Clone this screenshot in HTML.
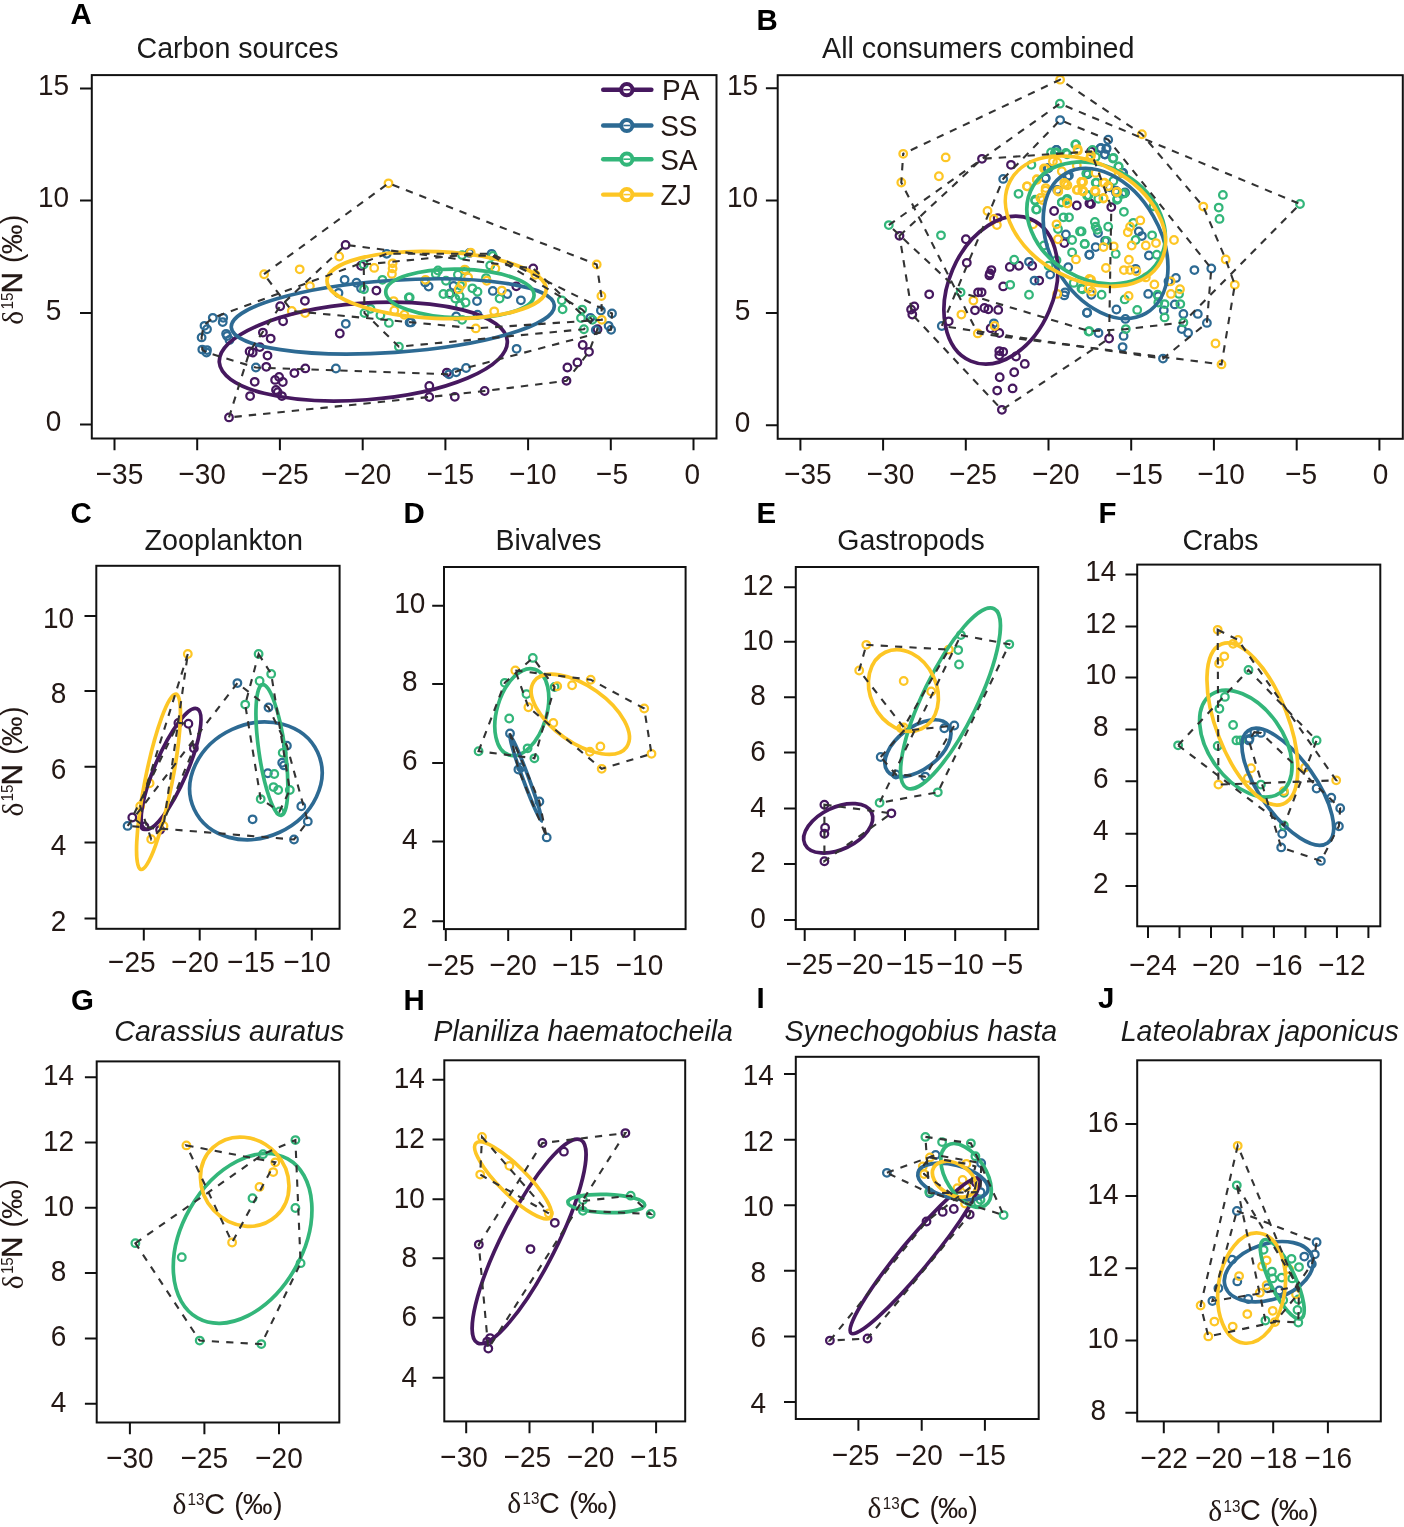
<!DOCTYPE html><html><head><meta charset="utf-8"><title>Figure</title><style>html,body{margin:0;padding:0;background:#fff}svg{display:block;will-change:transform}text{font-family:"Liberation Sans",sans-serif;font-kerning:none}</style></head><body><svg width="1404" height="1527" viewBox="0 0 1404 1527"><rect width="1404" height="1527" fill="#fff"/><g fill="none" stroke="#46185f" stroke-width="2.25"><circle cx="345.6" cy="244.9" r="3.8"/><circle cx="361.1" cy="265.7" r="3.8"/><circle cx="376.4" cy="290.6" r="3.8"/><circle cx="304.9" cy="300.8" r="3.8"/><circle cx="280.2" cy="306.2" r="3.8"/><circle cx="283.1" cy="321.2" r="3.8"/><circle cx="262.9" cy="332.6" r="3.8"/><circle cx="270.7" cy="338.6" r="3.8"/><circle cx="339.8" cy="333.5" r="3.8"/><circle cx="259.8" cy="347.1" r="3.8"/><circle cx="249.6" cy="351.5" r="3.8"/><circle cx="252.7" cy="352.5" r="3.8"/><circle cx="267.5" cy="355.6" r="3.8"/><circle cx="266.3" cy="366.8" r="3.8"/><circle cx="305.3" cy="368.4" r="3.8"/><circle cx="294.4" cy="373.1" r="3.8"/><circle cx="254.7" cy="381.8" r="3.8"/><circle cx="279.1" cy="376.9" r="3.8"/><circle cx="275.1" cy="379.9" r="3.8"/><circle cx="282.8" cy="382" r="3.8"/><circle cx="276" cy="390" r="3.8"/><circle cx="277.7" cy="392.2" r="3.8"/><circle cx="281.9" cy="396.1" r="3.8"/><circle cx="250.1" cy="396.1" r="3.8"/><circle cx="229" cy="417.4" r="3.8"/><circle cx="533.2" cy="268.4" r="3.8"/><circle cx="516.3" cy="286.3" r="3.8"/><circle cx="450.2" cy="293.4" r="3.8"/><circle cx="582.7" cy="345" r="3.8"/><circle cx="589" cy="351.8" r="3.8"/><circle cx="577.4" cy="362.4" r="3.8"/><circle cx="567.4" cy="367.5" r="3.8"/><circle cx="566.5" cy="380.8" r="3.8"/><circle cx="484.6" cy="391" r="3.8"/><circle cx="454.8" cy="396.8" r="3.8"/><circle cx="429.3" cy="385.9" r="3.8"/><circle cx="429.3" cy="397" r="3.8"/><circle cx="446.8" cy="372.6" r="3.8"/><circle cx="597.5" cy="329.2" r="3.8"/></g><g fill="none" stroke="#2d6a93" stroke-width="2.25"><circle cx="386.7" cy="253.8" r="3.8"/><circle cx="344.6" cy="279.8" r="3.8"/><circle cx="356.5" cy="282.7" r="3.8"/><circle cx="361.1" cy="288.3" r="3.8"/><circle cx="338.5" cy="292.9" r="3.8"/><circle cx="212.8" cy="317.8" r="3.8"/><circle cx="223.2" cy="317.8" r="3.8"/><circle cx="222.7" cy="322.1" r="3.8"/><circle cx="204.5" cy="325.8" r="3.8"/><circle cx="207" cy="329.2" r="3.8"/><circle cx="201.6" cy="337.4" r="3.8"/><circle cx="226.1" cy="333.8" r="3.8"/><circle cx="227.1" cy="336" r="3.8"/><circle cx="229.5" cy="339.9" r="3.8"/><circle cx="202.3" cy="349.6" r="3.8"/><circle cx="207" cy="350.1" r="3.8"/><circle cx="206.5" cy="352.5" r="3.8"/><circle cx="345.8" cy="323.8" r="3.8"/><circle cx="255.9" cy="367.5" r="3.8"/><circle cx="335.9" cy="368.5" r="3.8"/><circle cx="409.6" cy="322.4" r="3.8"/><circle cx="469.5" cy="252.9" r="3.8"/><circle cx="491.6" cy="253.8" r="3.8"/><circle cx="425.2" cy="282.4" r="3.8"/><circle cx="428.6" cy="286.6" r="3.8"/><circle cx="453.6" cy="285.8" r="3.8"/><circle cx="492.8" cy="290.9" r="3.8"/><circle cx="507.3" cy="294" r="3.8"/><circle cx="520.9" cy="300.3" r="3.8"/><circle cx="477" cy="301.1" r="3.8"/><circle cx="477.5" cy="314.7" r="3.8"/><circle cx="456.2" cy="316.4" r="3.8"/><circle cx="411.1" cy="322.4" r="3.8"/><circle cx="516.6" cy="348.8" r="3.8"/><circle cx="466.1" cy="368" r="3.8"/><circle cx="456.2" cy="372.3" r="3.8"/><circle cx="449" cy="374.3" r="3.8"/><circle cx="600.9" cy="310.5" r="3.8"/><circle cx="612" cy="313.5" r="3.8"/><circle cx="608.6" cy="325.8" r="3.8"/><circle cx="611.1" cy="329.7" r="3.8"/><circle cx="590.4" cy="317.8" r="3.8"/><circle cx="595.8" cy="330.1" r="3.8"/></g><g fill="none" stroke="#33b67a" stroke-width="2.25"><circle cx="363.7" cy="264.5" r="3.8"/><circle cx="382.4" cy="279.8" r="3.8"/><circle cx="364" cy="289.2" r="3.8"/><circle cx="408.8" cy="297.4" r="3.8"/><circle cx="364.5" cy="313" r="3.8"/><circle cx="380.4" cy="315.2" r="3.8"/><circle cx="388.9" cy="322.9" r="3.8"/><circle cx="398.9" cy="346.7" r="3.8"/><circle cx="370.5" cy="308.8" r="3.8"/><circle cx="438" cy="270.5" r="3.8"/><circle cx="435.8" cy="273.9" r="3.8"/><circle cx="462.1" cy="255.1" r="3.8"/><circle cx="492.8" cy="256" r="3.8"/><circle cx="490.2" cy="265.4" r="3.8"/><circle cx="465.6" cy="270.5" r="3.8"/><circle cx="457.9" cy="274.7" r="3.8"/><circle cx="446" cy="280.7" r="3.8"/><circle cx="486" cy="278.1" r="3.8"/><circle cx="460.4" cy="285.8" r="3.8"/><circle cx="472.4" cy="288.3" r="3.8"/><circle cx="477.5" cy="291.7" r="3.8"/><circle cx="443.4" cy="294" r="3.8"/><circle cx="449.4" cy="294" r="3.8"/><circle cx="459.6" cy="296" r="3.8"/><circle cx="455.3" cy="298.6" r="3.8"/><circle cx="465.6" cy="302.5" r="3.8"/><circle cx="459.9" cy="305.4" r="3.8"/><circle cx="499.6" cy="298.6" r="3.8"/><circle cx="409.7" cy="297.4" r="3.8"/><circle cx="462.1" cy="319.8" r="3.8"/><circle cx="561.8" cy="300.3" r="3.8"/><circle cx="562.6" cy="309.3" r="3.8"/><circle cx="582.2" cy="309.6" r="3.8"/><circle cx="581" cy="318.1" r="3.8"/><circle cx="592.4" cy="319.8" r="3.8"/><circle cx="583.9" cy="329.2" r="3.8"/></g><g fill="none" stroke="#fdc625" stroke-width="2.25"><circle cx="388.5" cy="183.3" r="3.8"/><circle cx="264.1" cy="274.2" r="3.8"/><circle cx="299.7" cy="269.3" r="3.8"/><circle cx="339.2" cy="256.5" r="3.8"/><circle cx="309.9" cy="286.1" r="3.8"/><circle cx="291.8" cy="311" r="3.8"/><circle cx="305.1" cy="313" r="3.8"/><circle cx="374.2" cy="267.9" r="3.8"/><circle cx="392.6" cy="263.3" r="3.8"/><circle cx="392.6" cy="268.4" r="3.8"/><circle cx="391.9" cy="273.9" r="3.8"/><circle cx="393.6" cy="301.1" r="3.8"/><circle cx="394.3" cy="310.5" r="3.8"/><circle cx="596.7" cy="264.5" r="3.8"/><circle cx="601.4" cy="296" r="3.8"/><circle cx="601.8" cy="319.8" r="3.8"/><circle cx="535.4" cy="274.7" r="3.8"/><circle cx="495.4" cy="268.4" r="3.8"/><circle cx="470.7" cy="252.6" r="3.8"/><circle cx="464.7" cy="269.6" r="3.8"/><circle cx="468.1" cy="277.3" r="3.8"/><circle cx="425.5" cy="279.8" r="3.8"/><circle cx="458.7" cy="289.2" r="3.8"/><circle cx="462.1" cy="284.1" r="3.8"/><circle cx="486.8" cy="280.7" r="3.8"/><circle cx="501.8" cy="290.6" r="3.8"/><circle cx="494.2" cy="311.3" r="3.8"/><circle cx="475.8" cy="328.4" r="3.8"/><circle cx="404.3" cy="314.7" r="3.8"/></g><ellipse cx="363.3" cy="351.6" rx="144.4" ry="48.3" transform="rotate(-4.3 363.3 351.6)" fill="none" stroke="#46185f" stroke-width="3.7"/><ellipse cx="392.8" cy="316.4" rx="161.9" ry="36" transform="rotate(-3.9 392.8 316.4)" fill="none" stroke="#2d6a93" stroke-width="3.7"/><ellipse cx="459.9" cy="293.5" rx="74.2" ry="24.4" transform="rotate(1.4 459.9 293.5)" fill="none" stroke="#33b67a" stroke-width="3.7"/><ellipse cx="436.6" cy="285" rx="109.7" ry="33.4" transform="rotate(2.4 436.6 285)" fill="none" stroke="#fdc625" stroke-width="3.7"/><path d="M603.2 89.7H651.4" stroke="#46185f" stroke-width="4.4" stroke-linecap="round"/><circle cx="626.8" cy="89.7" r="5.6" fill="#fff" stroke="#46185f" stroke-width="4"/><path d="M623.4 89.7H630.2" stroke="#46185f" stroke-width="1.6"/><text x="0" y="0" font-size="30.4" text-anchor="start" font-weight="normal" font-style="normal" fill="#231815" transform="translate(662 100.3) scale(0.921 1)">PA</text><path d="M603.2 125.5H651.4" stroke="#2d6a93" stroke-width="4.4" stroke-linecap="round"/><circle cx="626.8" cy="125.5" r="5.6" fill="#fff" stroke="#2d6a93" stroke-width="4"/><path d="M623.4 125.5H630.2" stroke="#2d6a93" stroke-width="1.6"/><text x="0" y="0" font-size="30.4" text-anchor="start" font-weight="normal" font-style="normal" fill="#231815" transform="translate(660.2 136.1) scale(0.921 1)">SS</text><path d="M603.2 159.2H651.4" stroke="#33b67a" stroke-width="4.4" stroke-linecap="round"/><circle cx="626.8" cy="159.2" r="5.6" fill="#fff" stroke="#33b67a" stroke-width="4"/><path d="M623.4 159.2H630.2" stroke="#33b67a" stroke-width="1.6"/><text x="0" y="0" font-size="30.4" text-anchor="start" font-weight="normal" font-style="normal" fill="#231815" transform="translate(660.2 169.8) scale(0.921 1)">SA</text><path d="M603.2 194.6H651.4" stroke="#fdc625" stroke-width="4.4" stroke-linecap="round"/><circle cx="626.8" cy="194.6" r="5.6" fill="#fff" stroke="#fdc625" stroke-width="4"/><path d="M623.4 194.6H630.2" stroke="#fdc625" stroke-width="1.6"/><text x="0" y="0" font-size="30.4" text-anchor="start" font-weight="normal" font-style="normal" fill="#231815" transform="translate(660.6 205.2) scale(0.921 1)">ZJ</text><path d="M229 417.4 L249.6 351.5 L280.2 306.2 L345.6 244.9 L533.2 268.4 L597.5 329.2 L589 351.9 L566.5 380.8 L484.6 391 L429.3 397 Z" fill="none" stroke="#333333" stroke-width="2.1" stroke-dasharray="7.4 7.0"/><path d="M201.6 337.4 L203.5 325.8 L212.8 317.8 L386.7 253.8 L491.6 253.8 L612 313.5 L611 329.7 L466 368 L449 374.3 L255.9 367.5 L206.5 352.5 L202.3 349.6 Z" fill="none" stroke="#333333" stroke-width="2.1" stroke-dasharray="7.4 7.0"/><path d="M363.7 264.5 L462.1 255.1 L492.8 256 L582.2 309.6 L592.4 319.8 L583.9 329.2 L398.9 346.7 L364.5 313 Z" fill="none" stroke="#333333" stroke-width="2.1" stroke-dasharray="7.4 7.0"/><path d="M264 274.2 L388.5 183.3 L596.7 264.5 L601.4 296 L601.8 319.8 L475.8 328.4 L291.8 311 Z" fill="none" stroke="#333333" stroke-width="2.1" stroke-dasharray="7.4 7.0"/><rect x="91.8" y="75.1" width="624.7" height="363.4" fill="none" stroke="#111111" stroke-width="2.0"/><path d="M114.5 438.5v11.8M197.2 438.5v11.8M279.9 438.5v11.8M362.7 438.5v11.8M445.4 438.5v11.8M528.1 438.5v11.8M610.8 438.5v11.8M693.5 438.5v11.8" stroke="#111111" stroke-width="2.0" fill="none"/><path d="M91.8 88.4h-11.8M91.8 200.6h-11.8M91.8 312.9h-11.8M91.8 424.5h-11.8" stroke="#111111" stroke-width="2.0" fill="none"/><text x="0" y="0" font-size="30.4" text-anchor="middle" font-weight="normal" font-style="normal" fill="#231815" transform="translate(119.5 483.5) scale(0.921 1)">−35</text><text x="0" y="0" font-size="30.4" text-anchor="middle" font-weight="normal" font-style="normal" fill="#231815" transform="translate(202.2 483.5) scale(0.921 1)">−30</text><text x="0" y="0" font-size="30.4" text-anchor="middle" font-weight="normal" font-style="normal" fill="#231815" transform="translate(284.9 483.5) scale(0.921 1)">−25</text><text x="0" y="0" font-size="30.4" text-anchor="middle" font-weight="normal" font-style="normal" fill="#231815" transform="translate(367.7 483.5) scale(0.921 1)">−20</text><text x="0" y="0" font-size="30.4" text-anchor="middle" font-weight="normal" font-style="normal" fill="#231815" transform="translate(450.4 483.5) scale(0.921 1)">−15</text><text x="0" y="0" font-size="30.4" text-anchor="middle" font-weight="normal" font-style="normal" fill="#231815" transform="translate(532.9 483.5) scale(0.921 1)">−10</text><text x="0" y="0" font-size="30.4" text-anchor="middle" font-weight="normal" font-style="normal" fill="#231815" transform="translate(612 483.5) scale(0.921 1)">−5</text><text x="0" y="0" font-size="30.4" text-anchor="middle" font-weight="normal" font-style="normal" fill="#231815" transform="translate(692.3 483.5) scale(0.921 1)">0</text><text x="0" y="0" font-size="30.4" text-anchor="middle" font-weight="normal" font-style="normal" fill="#231815" transform="translate(53.6 95.2) scale(0.921 1)">15</text><text x="0" y="0" font-size="30.4" text-anchor="middle" font-weight="normal" font-style="normal" fill="#231815" transform="translate(53.6 207.4) scale(0.921 1)">10</text><text x="0" y="0" font-size="30.4" text-anchor="middle" font-weight="normal" font-style="normal" fill="#231815" transform="translate(53.6 319.7) scale(0.921 1)">5</text><text x="0" y="0" font-size="30.4" text-anchor="middle" font-weight="normal" font-style="normal" fill="#231815" transform="translate(53.6 431.3) scale(0.921 1)">0</text><text x="0" y="0" font-size="28.6" text-anchor="start" font-weight="bold" font-style="normal" fill="#000" transform="translate(70.5 24.2) scale(1.03 1)">A</text><text x="136.5" y="57.6" font-size="30.4" text-anchor="start" font-weight="normal" font-style="normal" fill="#1a1a1a" textLength="202" lengthAdjust="spacingAndGlyphs">Carbon sources</text><g transform="translate(22.3 324.1) rotate(-90)" fill="#231815"><text x="-0.6" y="0.6" style="font-family:'Liberation Serif',serif" font-size="29.5">δ</text><text transform="translate(14.6 -9.6) scale(0.921 1)" font-size="16.5">15</text><text transform="translate(30.6 0) scale(0.975 1)" font-size="30.4" stroke="#231815" stroke-width="0.45">N</text><text transform="translate(61.2 0) scale(0.921 1)" font-size="30.4">(</text><text x="69.8" y="0" font-size="30.4" textLength="29.8" lengthAdjust="spacingAndGlyphs">‰</text><text transform="translate(100.2 0) scale(0.921 1)" font-size="30.4">)</text></g><g fill="none" stroke="#46185f" stroke-width="2.25"><circle cx="982" cy="158.8" r="3.8"/><circle cx="1011" cy="164.8" r="3.8"/><circle cx="899.5" cy="235.8" r="3.8"/><circle cx="965.9" cy="239.2" r="3.8"/><circle cx="997.7" cy="218.1" r="3.8"/><circle cx="1054.1" cy="211" r="3.8"/><circle cx="1076.8" cy="205.5" r="3.8"/><circle cx="1089.4" cy="203.2" r="3.8"/><circle cx="1064.3" cy="243.1" r="3.8"/><circle cx="1091" cy="151.5" r="3.8"/><circle cx="1091" cy="204" r="3.8"/><circle cx="1111.3" cy="207.1" r="3.8"/><circle cx="966.8" cy="262.8" r="3.8"/><circle cx="991.4" cy="270.1" r="3.8"/><circle cx="989.9" cy="273.5" r="3.8"/><circle cx="989.4" cy="275.4" r="3.8"/><circle cx="1009.8" cy="266.9" r="3.8"/><circle cx="1018.9" cy="265.7" r="3.8"/><circle cx="1032.2" cy="265.7" r="3.8"/><circle cx="1039.2" cy="280.6" r="3.8"/><circle cx="1003.2" cy="286.4" r="3.8"/><circle cx="978.1" cy="292.3" r="3.8"/><circle cx="981.6" cy="292.3" r="3.8"/><circle cx="929.2" cy="294.3" r="3.8"/><circle cx="914.3" cy="306.4" r="3.8"/><circle cx="911.1" cy="309.5" r="3.8"/><circle cx="912.3" cy="314.6" r="3.8"/><circle cx="948.7" cy="321.3" r="3.8"/><circle cx="975" cy="310.3" r="3.8"/><circle cx="984.4" cy="308" r="3.8"/><circle cx="988.3" cy="309.2" r="3.8"/><circle cx="998.2" cy="309.9" r="3.8"/><circle cx="990.7" cy="328.3" r="3.8"/><circle cx="999.3" cy="333" r="3.8"/><circle cx="999.3" cy="351.1" r="3.8"/><circle cx="1003.2" cy="351.8" r="3.8"/><circle cx="999.3" cy="355.3" r="3.8"/><circle cx="1016" cy="356.5" r="3.8"/><circle cx="1024.8" cy="363.9" r="3.8"/><circle cx="1014.2" cy="372.2" r="3.8"/><circle cx="999.7" cy="377.2" r="3.8"/><circle cx="997.2" cy="390.6" r="3.8"/><circle cx="1012.6" cy="388.4" r="3.8"/><circle cx="1001.9" cy="409.8" r="3.8"/><circle cx="1109.1" cy="338.5" r="3.8"/></g><g fill="none" stroke="#2d6a93" stroke-width="2.25"><circle cx="1060.1" cy="120.1" r="3.8"/><circle cx="1003.2" cy="178.9" r="3.8"/><circle cx="1056.5" cy="149.9" r="3.8"/><circle cx="1048.6" cy="167.9" r="3.8"/><circle cx="1045.5" cy="178.1" r="3.8"/><circle cx="1057.2" cy="189.9" r="3.8"/><circle cx="1065.9" cy="234.5" r="3.8"/><circle cx="1067.4" cy="176.5" r="3.8"/><circle cx="1108.2" cy="139.7" r="3.8"/><circle cx="1106.6" cy="148.3" r="3.8"/><circle cx="1100.4" cy="148.3" r="3.8"/><circle cx="1105.1" cy="154.6" r="3.8"/><circle cx="1122.3" cy="172.6" r="3.8"/><circle cx="1087.8" cy="174.2" r="3.8"/><circle cx="1116" cy="190.7" r="3.8"/><circle cx="1124.7" cy="193" r="3.8"/><circle cx="1098" cy="233" r="3.8"/><circle cx="1138.8" cy="231.4" r="3.8"/><circle cx="1141.9" cy="236.1" r="3.8"/><circle cx="1095.7" cy="247.1" r="3.8"/><circle cx="1105.1" cy="240.8" r="3.8"/><circle cx="1029" cy="261.8" r="3.8"/><circle cx="1034.5" cy="280.6" r="3.8"/><circle cx="1050.2" cy="274.6" r="3.8"/><circle cx="1068.2" cy="267.2" r="3.8"/><circle cx="1065.1" cy="292.3" r="3.8"/><circle cx="1064.3" cy="295.4" r="3.8"/><circle cx="941.8" cy="326" r="3.8"/><circle cx="993.8" cy="323.3" r="3.8"/><circle cx="1087" cy="312.7" r="3.8"/><circle cx="1089.4" cy="254.7" r="3.8"/><circle cx="1194.4" cy="270.1" r="3.8"/><circle cx="1211.3" cy="268.5" r="3.8"/><circle cx="1175.9" cy="277.9" r="3.8"/><circle cx="1168.5" cy="281.3" r="3.8"/><circle cx="1148.2" cy="293.9" r="3.8"/><circle cx="1158.3" cy="296.2" r="3.8"/><circle cx="1174.8" cy="304.4" r="3.8"/><circle cx="1163.8" cy="310.3" r="3.8"/><circle cx="1183.4" cy="313.9" r="3.8"/><circle cx="1197.8" cy="313.9" r="3.8"/><circle cx="1206.9" cy="322.9" r="3.8"/><circle cx="1181.8" cy="329.1" r="3.8"/><circle cx="1188.1" cy="333" r="3.8"/><circle cx="1116.4" cy="309.5" r="3.8"/><circle cx="1087.1" cy="312.7" r="3.8"/><circle cx="1091.3" cy="294.7" r="3.8"/><circle cx="1125.4" cy="318.9" r="3.8"/><circle cx="1123.6" cy="335.9" r="3.8"/><circle cx="1122.6" cy="347.1" r="3.8"/><circle cx="1098.5" cy="333" r="3.8"/><circle cx="1163" cy="358.6" r="3.8"/><circle cx="1148.9" cy="255.5" r="3.8"/><circle cx="1089.4" cy="254.7" r="3.8"/><circle cx="1135.6" cy="268.8" r="3.8"/><circle cx="1056.4" cy="149.8" r="3.8"/><circle cx="1100.9" cy="148" r="3.8"/><circle cx="1106.3" cy="148.9" r="3.8"/><circle cx="1104.5" cy="154.2" r="3.8"/><circle cx="1047.5" cy="168.5" r="3.8"/><circle cx="1045.7" cy="178.3" r="3.8"/><circle cx="1068.9" cy="175.6" r="3.8"/><circle cx="1123.2" cy="172.9" r="3.8"/><circle cx="1116.1" cy="192.5" r="3.8"/><circle cx="1125" cy="192.5" r="3.8"/><circle cx="1109.8" cy="187.2" r="3.8"/><circle cx="1058.2" cy="190.7" r="3.8"/></g><g fill="none" stroke="#33b67a" stroke-width="2.25"><circle cx="1059.9" cy="103.7" r="3.8"/><circle cx="888.8" cy="225.1" r="3.8"/><circle cx="941" cy="235.3" r="3.8"/><circle cx="1018.5" cy="193.8" r="3.8"/><circle cx="1031.4" cy="164.8" r="3.8"/><circle cx="1075.3" cy="144.4" r="3.8"/><circle cx="1054.9" cy="153" r="3.8"/><circle cx="1065.9" cy="153" r="3.8"/><circle cx="1035.3" cy="200.8" r="3.8"/><circle cx="1036.1" cy="209.5" r="3.8"/><circle cx="1061.9" cy="202.4" r="3.8"/><circle cx="1066.6" cy="200.1" r="3.8"/><circle cx="1063.5" cy="217.3" r="3.8"/><circle cx="1069" cy="217.3" r="3.8"/><circle cx="1058" cy="229" r="3.8"/><circle cx="1080" cy="231.4" r="3.8"/><circle cx="1072.1" cy="240" r="3.8"/><circle cx="1084.7" cy="243.9" r="3.8"/><circle cx="1087.8" cy="195.4" r="3.8"/><circle cx="1087" cy="173.4" r="3.8"/><circle cx="1043.9" cy="245.5" r="3.8"/><circle cx="1300" cy="204" r="3.8"/><circle cx="1222.9" cy="194.9" r="3.8"/><circle cx="1218.7" cy="207.6" r="3.8"/><circle cx="1219.5" cy="218.9" r="3.8"/><circle cx="1112.9" cy="158.5" r="3.8"/><circle cx="1118.4" cy="166.4" r="3.8"/><circle cx="1092.5" cy="149.9" r="3.8"/><circle cx="1095.7" cy="157" r="3.8"/><circle cx="1153.6" cy="206.3" r="3.8"/><circle cx="1123.9" cy="211.8" r="3.8"/><circle cx="1094.9" cy="222" r="3.8"/><circle cx="1095.7" cy="226.7" r="3.8"/><circle cx="1097.2" cy="229.8" r="3.8"/><circle cx="1108.2" cy="226.7" r="3.8"/><circle cx="1081.6" cy="231.4" r="3.8"/><circle cx="1133.3" cy="222.8" r="3.8"/><circle cx="1152.1" cy="235.3" r="3.8"/><circle cx="1135.6" cy="240" r="3.8"/><circle cx="1084.7" cy="243.9" r="3.8"/><circle cx="1106.6" cy="240.8" r="3.8"/><circle cx="1086.3" cy="173.4" r="3.8"/><circle cx="1095.7" cy="182.8" r="3.8"/><circle cx="1087.1" cy="195.4" r="3.8"/><circle cx="1117.6" cy="198.5" r="3.8"/><circle cx="1122.3" cy="193.8" r="3.8"/><circle cx="1014.2" cy="259.7" r="3.8"/><circle cx="1010.2" cy="284.8" r="3.8"/><circle cx="960.6" cy="292.3" r="3.8"/><circle cx="1029" cy="294.7" r="3.8"/><circle cx="1088.6" cy="331.5" r="3.8"/><circle cx="1073.7" cy="282.9" r="3.8"/><circle cx="1081.5" cy="288.4" r="3.8"/><circle cx="1048.6" cy="265.7" r="3.8"/><circle cx="1056.5" cy="260.2" r="3.8"/><circle cx="1072.1" cy="252.4" r="3.8"/><circle cx="1115.7" cy="253.9" r="3.8"/><circle cx="1101.6" cy="294.7" r="3.8"/><circle cx="1124.7" cy="299.4" r="3.8"/><circle cx="1137.2" cy="309.9" r="3.8"/><circle cx="1157.6" cy="294.7" r="3.8"/><circle cx="1158.3" cy="302.5" r="3.8"/><circle cx="1164.6" cy="304.1" r="3.8"/><circle cx="1180.3" cy="304.1" r="3.8"/><circle cx="1179" cy="293.9" r="3.8"/><circle cx="1164.6" cy="317.4" r="3.8"/><circle cx="1183.4" cy="322.4" r="3.8"/><circle cx="1125.8" cy="329.1" r="3.8"/><circle cx="1089.4" cy="331.2" r="3.8"/><circle cx="1082.4" cy="289.2" r="3.8"/><circle cx="1156.8" cy="254.7" r="3.8"/><circle cx="1076" cy="144.5" r="3.8"/><circle cx="1056.4" cy="152.5" r="3.8"/><circle cx="1067.1" cy="154.2" r="3.8"/><circle cx="1051.1" cy="152.5" r="3.8"/><circle cx="1113.4" cy="157.8" r="3.8"/><circle cx="1118.7" cy="166.7" r="3.8"/><circle cx="1086.7" cy="173.8" r="3.8"/><circle cx="1096.5" cy="182.7" r="3.8"/><circle cx="1088.5" cy="195.2" r="3.8"/><circle cx="1098.3" cy="198.8" r="3.8"/><circle cx="1061.8" cy="202.3" r="3.8"/><circle cx="1067.1" cy="198.8" r="3.8"/><circle cx="1035.1" cy="199.7" r="3.8"/><circle cx="1036.8" cy="209.4" r="3.8"/><circle cx="1117" cy="199.7" r="3.8"/><circle cx="1124.1" cy="193.4" r="3.8"/><circle cx="1113.4" cy="181" r="3.8"/></g><g fill="none" stroke="#fdc625" stroke-width="2.25"><circle cx="1060.1" cy="79.7" r="3.8"/><circle cx="903.2" cy="153.8" r="3.8"/><circle cx="945.7" cy="157.4" r="3.8"/><circle cx="938.9" cy="176.2" r="3.8"/><circle cx="901.3" cy="182.5" r="3.8"/><circle cx="987.5" cy="211" r="3.8"/><circle cx="996.9" cy="225.1" r="3.8"/><circle cx="993.8" cy="218.9" r="3.8"/><circle cx="1027.2" cy="186.3" r="3.8"/><circle cx="1045.5" cy="168.7" r="3.8"/><circle cx="1036.9" cy="179.7" r="3.8"/><circle cx="1045.5" cy="190.7" r="3.8"/><circle cx="1042.4" cy="200.1" r="3.8"/><circle cx="1057.2" cy="162.4" r="3.8"/><circle cx="1058" cy="190.7" r="3.8"/><circle cx="1064.3" cy="182.8" r="3.8"/><circle cx="1067.4" cy="185.2" r="3.8"/><circle cx="1067.4" cy="203.2" r="3.8"/><circle cx="1076.8" cy="189.9" r="3.8"/><circle cx="1081.5" cy="182" r="3.8"/><circle cx="1083.1" cy="190.7" r="3.8"/><circle cx="1056.5" cy="224.3" r="3.8"/><circle cx="1058" cy="239.2" r="3.8"/><circle cx="1077.6" cy="149.1" r="3.8"/><circle cx="1076.8" cy="165.6" r="3.8"/><circle cx="1033" cy="224.3" r="3.8"/><circle cx="1141.9" cy="134.2" r="3.8"/><circle cx="1203.3" cy="206.6" r="3.8"/><circle cx="1174" cy="240" r="3.8"/><circle cx="1140.3" cy="220.4" r="3.8"/><circle cx="1130.1" cy="226.7" r="3.8"/><circle cx="1127.8" cy="232.2" r="3.8"/><circle cx="1156" cy="243.1" r="3.8"/><circle cx="1145.8" cy="245.5" r="3.8"/><circle cx="1131.7" cy="245.5" r="3.8"/><circle cx="1113.7" cy="246.3" r="3.8"/><circle cx="1103.5" cy="247.1" r="3.8"/><circle cx="1116.8" cy="192.2" r="3.8"/><circle cx="1103.5" cy="198.5" r="3.8"/><circle cx="1094.9" cy="190.7" r="3.8"/><circle cx="1083.1" cy="182" r="3.8"/><circle cx="1082.4" cy="190.7" r="3.8"/><circle cx="1091" cy="155.4" r="3.8"/><circle cx="1103.5" cy="182.8" r="3.8"/><circle cx="1108.2" cy="186" r="3.8"/><circle cx="973.4" cy="300.6" r="3.8"/><circle cx="961.4" cy="314.6" r="3.8"/><circle cx="994.6" cy="326" r="3.8"/><circle cx="977.8" cy="333.4" r="3.8"/><circle cx="1057.2" cy="293.9" r="3.8"/><circle cx="1076" cy="259.4" r="3.8"/><circle cx="1089.4" cy="279" r="3.8"/><circle cx="1088.6" cy="288.4" r="3.8"/><circle cx="1225.7" cy="259.4" r="3.8"/><circle cx="1234.8" cy="284.8" r="3.8"/><circle cx="1215.5" cy="343.5" r="3.8"/><circle cx="1221.5" cy="364.4" r="3.8"/><circle cx="1128.9" cy="259.7" r="3.8"/><circle cx="1105.9" cy="268" r="3.8"/><circle cx="1123.9" cy="270.1" r="3.8"/><circle cx="1130.1" cy="270.1" r="3.8"/><circle cx="1136.4" cy="271.2" r="3.8"/><circle cx="1145.8" cy="277.4" r="3.8"/><circle cx="1154.4" cy="284.5" r="3.8"/><circle cx="1128.6" cy="295.9" r="3.8"/><circle cx="1091" cy="279.8" r="3.8"/><circle cx="1091.8" cy="291.5" r="3.8"/><circle cx="1170.6" cy="281.3" r="3.8"/><circle cx="1180" cy="289.2" r="3.8"/><circle cx="1170.9" cy="293.9" r="3.8"/><circle cx="1077.8" cy="150.7" r="3.8"/><circle cx="1044" cy="168.5" r="3.8"/><circle cx="1036.8" cy="179.2" r="3.8"/><circle cx="1027" cy="186.3" r="3.8"/><circle cx="1052.9" cy="161.4" r="3.8"/><circle cx="1061.8" cy="171.2" r="3.8"/><circle cx="1045.7" cy="188.1" r="3.8"/><circle cx="1058.2" cy="191.6" r="3.8"/><circle cx="1065.3" cy="184.5" r="3.8"/><circle cx="1081.4" cy="181.8" r="3.8"/><circle cx="1077.8" cy="189.9" r="3.8"/><circle cx="1083.1" cy="191.6" r="3.8"/><circle cx="1095.6" cy="191.6" r="3.8"/><circle cx="1090.3" cy="157.8" r="3.8"/><circle cx="1104.5" cy="182.7" r="3.8"/><circle cx="1108.1" cy="186.3" r="3.8"/><circle cx="1103.6" cy="197.9" r="3.8"/><circle cx="1117" cy="191.6" r="3.8"/><circle cx="1118.7" cy="173.8" r="3.8"/><circle cx="1095.6" cy="172.9" r="3.8"/><circle cx="1040.4" cy="197.9" r="3.8"/><circle cx="1067.1" cy="203.2" r="3.8"/></g><ellipse cx="1000.9" cy="290.2" rx="77" ry="52.5" transform="rotate(-67 1000.9 290.2)" fill="none" stroke="#46185f" stroke-width="3.7"/><ellipse cx="1105.6" cy="243.5" rx="80.6" ry="55" transform="rotate(60.1 1105.6 243.5)" fill="none" stroke="#2d6a93" stroke-width="3.7"/><ellipse cx="1096.1" cy="223" rx="73" ry="56.3" transform="rotate(30.4 1096.1 223)" fill="none" stroke="#33b67a" stroke-width="3.7"/><ellipse cx="1085.5" cy="221.2" rx="85.4" ry="58.1" transform="rotate(28.2 1085.5 221.2)" fill="none" stroke="#fdc625" stroke-width="3.7"/><path d="M899.5 235.8 L982 158.8 L1091 151.5 L1111.3 207.1 L1109.1 338.5 L1001.9 409.8 L912.3 314.6 Z" fill="none" stroke="#333333" stroke-width="2.1" stroke-dasharray="7.4 7.0"/><path d="M1003.2 178.9 L1060.1 120.1 L1108.2 139.7 L1211.3 268.5 L1206.9 322.9 L1163 358.6 L941.8 326 Z" fill="none" stroke="#333333" stroke-width="2.1" stroke-dasharray="7.4 7.0"/><path d="M888.8 225.1 L1059.9 103.7 L1300 204 L1183.4 322.4 L1125.8 329.1 L1089.4 331.2 L960.6 292.3 Z" fill="none" stroke="#333333" stroke-width="2.1" stroke-dasharray="7.4 7.0"/><path d="M903.2 153.8 L1060.1 79.7 L1141.9 134.2 L1203.3 206.6 L1225.7 259.4 L1234.8 284.8 L1221.5 364.4 L977.8 333.4 L901.3 182.5 Z" fill="none" stroke="#333333" stroke-width="2.1" stroke-dasharray="7.4 7.0" stroke-dashoffset="6"/><rect x="777.7" y="75.2" width="625.1" height="363.6" fill="none" stroke="#111111" stroke-width="2.0"/><path d="M800.4 438.8v11.8M883.1 438.8v11.8M965.8 438.8v11.8M1048.5 438.8v11.8M1131.2 438.8v11.8M1213.9 438.8v11.8M1296.7 438.8v11.8M1379.4 438.8v11.8" stroke="#111111" stroke-width="2.0" fill="none"/><path d="M777.7 88.3h-11.8M777.7 200.6h-11.8M777.7 313h-11.8M777.7 425.3h-11.8" stroke="#111111" stroke-width="2.0" fill="none"/><text x="0" y="0" font-size="30.4" text-anchor="middle" font-weight="normal" font-style="normal" fill="#231815" transform="translate(807.9 484.4) scale(0.921 1)">−35</text><text x="0" y="0" font-size="30.4" text-anchor="middle" font-weight="normal" font-style="normal" fill="#231815" transform="translate(890.6 484.4) scale(0.921 1)">−30</text><text x="0" y="0" font-size="30.4" text-anchor="middle" font-weight="normal" font-style="normal" fill="#231815" transform="translate(973.1 484.4) scale(0.921 1)">−25</text><text x="0" y="0" font-size="30.4" text-anchor="middle" font-weight="normal" font-style="normal" fill="#231815" transform="translate(1055.9 484.4) scale(0.921 1)">−20</text><text x="0" y="0" font-size="30.4" text-anchor="middle" font-weight="normal" font-style="normal" fill="#231815" transform="translate(1139 484.4) scale(0.921 1)">−15</text><text x="0" y="0" font-size="30.4" text-anchor="middle" font-weight="normal" font-style="normal" fill="#231815" transform="translate(1221.2 484.4) scale(0.921 1)">−10</text><text x="0" y="0" font-size="30.4" text-anchor="middle" font-weight="normal" font-style="normal" fill="#231815" transform="translate(1301.2 484.4) scale(0.921 1)">−5</text><text x="0" y="0" font-size="30.4" text-anchor="middle" font-weight="normal" font-style="normal" fill="#231815" transform="translate(1380.6 484.4) scale(0.921 1)">0</text><text x="0" y="0" font-size="30.4" text-anchor="middle" font-weight="normal" font-style="normal" fill="#231815" transform="translate(742.5 95.1) scale(0.921 1)">15</text><text x="0" y="0" font-size="30.4" text-anchor="middle" font-weight="normal" font-style="normal" fill="#231815" transform="translate(742.5 207.4) scale(0.921 1)">10</text><text x="0" y="0" font-size="30.4" text-anchor="middle" font-weight="normal" font-style="normal" fill="#231815" transform="translate(742.5 319.8) scale(0.921 1)">5</text><text x="0" y="0" font-size="30.4" text-anchor="middle" font-weight="normal" font-style="normal" fill="#231815" transform="translate(742.5 432.1) scale(0.921 1)">0</text><text x="0" y="0" font-size="28.6" text-anchor="start" font-weight="bold" font-style="normal" fill="#000" transform="translate(756.5 30) scale(1.03 1)">B</text><text x="822" y="57.6" font-size="30.4" text-anchor="start" font-weight="normal" font-style="normal" fill="#1a1a1a" textLength="312.5" lengthAdjust="spacingAndGlyphs">All consumers combined</text><g fill="none" stroke="#46185f" stroke-width="2.25"><circle cx="188.4" cy="723.7" r="3.8"/><circle cx="178.4" cy="722.9" r="3.8"/><circle cx="193.9" cy="748.3" r="3.8"/><circle cx="132.3" cy="817.5" r="3.8"/><circle cx="144.4" cy="826.4" r="3.8"/><circle cx="160.1" cy="829.8" r="3.8"/></g><g fill="none" stroke="#2d6a93" stroke-width="2.25"><circle cx="237.4" cy="683.1" r="3.8"/><circle cx="268.5" cy="707.5" r="3.8"/><circle cx="286.9" cy="745.7" r="3.8"/><circle cx="282.2" cy="762.7" r="3.8"/><circle cx="284" cy="765.4" r="3.8"/><circle cx="267.8" cy="773.2" r="3.8"/><circle cx="252.6" cy="819.3" r="3.8"/><circle cx="301.3" cy="806.2" r="3.8"/><circle cx="307.8" cy="821.4" r="3.8"/><circle cx="294" cy="839.5" r="3.8"/><circle cx="127.6" cy="825.9" r="3.8"/></g><g fill="none" stroke="#33b67a" stroke-width="2.25"><circle cx="258.6" cy="654" r="3.8"/><circle cx="271.2" cy="673.9" r="3.8"/><circle cx="259.6" cy="681" r="3.8"/><circle cx="245.2" cy="704.6" r="3.8"/><circle cx="282.7" cy="752.8" r="3.8"/><circle cx="274.3" cy="774" r="3.8"/><circle cx="273.5" cy="787.1" r="3.8"/><circle cx="278.2" cy="790" r="3.8"/><circle cx="289.8" cy="790" r="3.8"/><circle cx="260.7" cy="799.1" r="3.8"/><circle cx="279.5" cy="811.5" r="3.8"/></g><g fill="none" stroke="#fdc625" stroke-width="2.25"><circle cx="187.8" cy="654" r="3.8"/><circle cx="149.6" cy="783.2" r="3.8"/><circle cx="140.2" cy="806.2" r="3.8"/><circle cx="151.2" cy="839.2" r="3.8"/><circle cx="163.5" cy="825.9" r="3.8"/></g><ellipse cx="171.1" cy="768.9" rx="65.5" ry="16.1" transform="rotate(-66.7 171.1 768.9)" fill="none" stroke="#46185f" stroke-width="3.7"/><ellipse cx="255.9" cy="780.8" rx="68" ry="56.7" transform="rotate(-24.8 255.9 780.8)" fill="none" stroke="#2d6a93" stroke-width="3.7"/><ellipse cx="271.9" cy="750" rx="66" ry="13.1" transform="rotate(81.9 271.9 750)" fill="none" stroke="#33b67a" stroke-width="3.7"/><ellipse cx="158.5" cy="781.8" rx="89.4" ry="13.5" transform="rotate(-78.7 158.5 781.8)" fill="none" stroke="#fdc625" stroke-width="3.7"/><path d="M187.8 654 L140.2 806.2 L151.2 839.2 L163.5 825.9 Z" fill="none" stroke="#333333" stroke-width="2.1" stroke-dasharray="7.2 7.2"/><path d="M178.4 722.9 L188.4 723.7 L193.9 748.3 L160.1 829.8 L144.4 826.4 L132.3 817.5 Z" fill="none" stroke="#333333" stroke-width="2.1" stroke-dasharray="7.2 7.2"/><path d="M127.6 825.9 L237.4 683.1 L268.5 707.5 L286.9 745.7 L307.8 821.4 L294 839.5 Z" fill="none" stroke="#333333" stroke-width="2.1" stroke-dasharray="7.2 7.2"/><path d="M258.6 654 L271.2 673.9 L289.8 790 L279.5 811.5 L260.7 799.1 L245.2 704.6 Z" fill="none" stroke="#333333" stroke-width="2.1" stroke-dasharray="7.2 7.2"/><rect x="96.3" y="565.8" width="243.3" height="363" fill="none" stroke="#111111" stroke-width="2.0"/><path d="M143.8 928.8v11.8M199.7 928.8v11.8M255.7 928.8v11.8M311.8 928.8v11.8" stroke="#111111" stroke-width="2.0" fill="none"/><path d="M96.3 615.9h-11.8M96.3 691h-11.8M96.3 766.7h-11.8M96.3 842.5h-11.8M96.3 918.6h-11.8" stroke="#111111" stroke-width="2.0" fill="none"/><text x="0" y="0" font-size="30.4" text-anchor="middle" font-weight="normal" font-style="normal" fill="#231815" transform="translate(131.8 972.2) scale(0.921 1)">−25</text><text x="0" y="0" font-size="30.4" text-anchor="middle" font-weight="normal" font-style="normal" fill="#231815" transform="translate(195.1 972.2) scale(0.921 1)">−20</text><text x="0" y="0" font-size="30.4" text-anchor="middle" font-weight="normal" font-style="normal" fill="#231815" transform="translate(251.1 972.2) scale(0.921 1)">−15</text><text x="0" y="0" font-size="30.4" text-anchor="middle" font-weight="normal" font-style="normal" fill="#231815" transform="translate(307.2 972.2) scale(0.921 1)">−10</text><text x="0" y="0" font-size="30.4" text-anchor="middle" font-weight="normal" font-style="normal" fill="#231815" transform="translate(58.5 627.9) scale(0.921 1)">10</text><text x="0" y="0" font-size="30.4" text-anchor="middle" font-weight="normal" font-style="normal" fill="#231815" transform="translate(58.5 703) scale(0.921 1)">8</text><text x="0" y="0" font-size="30.4" text-anchor="middle" font-weight="normal" font-style="normal" fill="#231815" transform="translate(58.5 778.7) scale(0.921 1)">6</text><text x="0" y="0" font-size="30.4" text-anchor="middle" font-weight="normal" font-style="normal" fill="#231815" transform="translate(58.5 854.5) scale(0.921 1)">4</text><text x="0" y="0" font-size="30.4" text-anchor="middle" font-weight="normal" font-style="normal" fill="#231815" transform="translate(58.5 930.6) scale(0.921 1)">2</text><text x="0" y="0" font-size="28.6" text-anchor="start" font-weight="bold" font-style="normal" fill="#000" transform="translate(70.6 523.4) scale(1.03 1)">C</text><text x="144.5" y="550.2" font-size="30.4" text-anchor="start" font-weight="normal" font-style="normal" fill="#1a1a1a" textLength="158.5" lengthAdjust="spacingAndGlyphs">Zooplankton</text><g transform="translate(22.3 816) rotate(-90)" fill="#231815"><text x="-0.6" y="0.6" style="font-family:'Liberation Serif',serif" font-size="29.5">δ</text><text transform="translate(14.6 -9.6) scale(0.921 1)" font-size="16.5">15</text><text transform="translate(30.6 0) scale(0.975 1)" font-size="30.4" stroke="#231815" stroke-width="0.45">N</text><text transform="translate(61.2 0) scale(0.921 1)" font-size="30.4">(</text><text x="69.8" y="0" font-size="30.4" textLength="29.8" lengthAdjust="spacingAndGlyphs">‰</text><text transform="translate(100.2 0) scale(0.921 1)" font-size="30.4">)</text></g><g fill="none" stroke="#2d6a93" stroke-width="2.25"><circle cx="510" cy="733.4" r="3.8"/><circle cx="521" cy="767.4" r="3.8"/><circle cx="518.4" cy="769.5" r="3.8"/><circle cx="539.4" cy="801.5" r="3.8"/><circle cx="546.7" cy="837.4" r="3.8"/></g><g fill="none" stroke="#33b67a" stroke-width="2.25"><circle cx="532.8" cy="657.9" r="3.8"/><circle cx="504.8" cy="682.8" r="3.8"/><circle cx="526.5" cy="694.1" r="3.8"/><circle cx="509.2" cy="718.5" r="3.8"/><circle cx="478.6" cy="751.2" r="3.8"/><circle cx="527.6" cy="748.3" r="3.8"/><circle cx="534.4" cy="758.3" r="3.8"/><circle cx="554.6" cy="687" r="3.8"/></g><g fill="none" stroke="#fdc625" stroke-width="2.25"><circle cx="515.3" cy="670.5" r="3.8"/><circle cx="557.2" cy="686.2" r="3.8"/><circle cx="572.1" cy="685.2" r="3.8"/><circle cx="590.7" cy="679.7" r="3.8"/><circle cx="528.4" cy="707.2" r="3.8"/><circle cx="553.3" cy="722.9" r="3.8"/><circle cx="644.2" cy="708.5" r="3.8"/><circle cx="651.5" cy="753.8" r="3.8"/><circle cx="601.7" cy="768.8" r="3.8"/><circle cx="600.4" cy="746.5" r="3.8"/><circle cx="589.9" cy="751.7" r="3.8"/></g><ellipse cx="521.8" cy="712.1" rx="44.8" ry="24.8" transform="rotate(-73.4 521.8 712.1)" fill="none" stroke="#33b67a" stroke-width="3.7"/><ellipse cx="580.3" cy="714.3" rx="56.7" ry="28.2" transform="rotate(35.3 580.3 714.3)" fill="none" stroke="#fdc625" stroke-width="3.7"/><ellipse cx="525.7" cy="778" rx="46" ry="2.9" transform="rotate(69.7 525.7 778)" fill="none" stroke="#2d6a93" stroke-width="3.7"/><path d="M478.6 751.2 L504.8 682.8 L532.8 657.9 L554.6 687 L534.4 758.3 Z" fill="none" stroke="#333333" stroke-width="2.1" stroke-dasharray="7.2 7.2"/><path d="M515.3 670.5 L590.7 679.7 L644.2 708.5 L651.5 753.8 L601.7 768.8 L528.4 707.2 Z" fill="none" stroke="#333333" stroke-width="2.1" stroke-dasharray="7.2 7.2"/><path d="M510 733.4 L539.4 801.5 L546.7 837.4 L518.4 769.5 Z" fill="none" stroke="#333333" stroke-width="2.1" stroke-dasharray="7.2 7.2"/><rect x="444" y="567" width="241.6" height="362.1" fill="none" stroke="#111111" stroke-width="2.0"/><path d="M445.8 929.1v11.8M508.2 929.1v11.8M571.1 929.1v11.8M634.5 929.1v11.8" stroke="#111111" stroke-width="2.0" fill="none"/><path d="M444 605.8h-11.8M444 684.1h-11.8M444 763h-11.8M444 841.6h-11.8M444 921.2h-11.8" stroke="#111111" stroke-width="2.0" fill="none"/><text x="0" y="0" font-size="30.4" text-anchor="middle" font-weight="normal" font-style="normal" fill="#231815" transform="translate(450.8 974.5) scale(0.921 1)">−25</text><text x="0" y="0" font-size="30.4" text-anchor="middle" font-weight="normal" font-style="normal" fill="#231815" transform="translate(513.2 974.5) scale(0.921 1)">−20</text><text x="0" y="0" font-size="30.4" text-anchor="middle" font-weight="normal" font-style="normal" fill="#231815" transform="translate(576.1 974.5) scale(0.921 1)">−15</text><text x="0" y="0" font-size="30.4" text-anchor="middle" font-weight="normal" font-style="normal" fill="#231815" transform="translate(639.5 974.5) scale(0.921 1)">−10</text><text x="0" y="0" font-size="30.4" text-anchor="middle" font-weight="normal" font-style="normal" fill="#231815" transform="translate(409.8 612.8) scale(0.921 1)">10</text><text x="0" y="0" font-size="30.4" text-anchor="middle" font-weight="normal" font-style="normal" fill="#231815" transform="translate(409.8 691.1) scale(0.921 1)">8</text><text x="0" y="0" font-size="30.4" text-anchor="middle" font-weight="normal" font-style="normal" fill="#231815" transform="translate(409.8 770) scale(0.921 1)">6</text><text x="0" y="0" font-size="30.4" text-anchor="middle" font-weight="normal" font-style="normal" fill="#231815" transform="translate(409.8 848.6) scale(0.921 1)">4</text><text x="0" y="0" font-size="30.4" text-anchor="middle" font-weight="normal" font-style="normal" fill="#231815" transform="translate(409.8 928.2) scale(0.921 1)">2</text><text x="0" y="0" font-size="28.6" text-anchor="start" font-weight="bold" font-style="normal" fill="#000" transform="translate(403.5 523.4) scale(1.03 1)">D</text><text x="495.5" y="549.8" font-size="30.4" text-anchor="start" font-weight="normal" font-style="normal" fill="#1a1a1a" textLength="106" lengthAdjust="spacingAndGlyphs">Bivalves</text><g fill="none" stroke="#46185f" stroke-width="2.25"><circle cx="824.4" cy="804.7" r="3.8"/><circle cx="891.4" cy="813.3" r="3.8"/><circle cx="825.1" cy="827.7" r="3.8"/><circle cx="824.4" cy="833.7" r="3.8"/><circle cx="824.4" cy="861.2" r="3.8"/></g><g fill="none" stroke="#2d6a93" stroke-width="2.25"><circle cx="954.3" cy="725.5" r="3.8"/><circle cx="944.3" cy="728.2" r="3.8"/><circle cx="880.7" cy="757" r="3.8"/><circle cx="895.9" cy="774.5" r="3.8"/><circle cx="925.2" cy="776.6" r="3.8"/></g><g fill="none" stroke="#33b67a" stroke-width="2.25"><circle cx="960.9" cy="635.1" r="3.8"/><circle cx="1009.3" cy="644.3" r="3.8"/><circle cx="958.2" cy="650.1" r="3.8"/><circle cx="959" cy="664.5" r="3.8"/><circle cx="879.6" cy="802.8" r="3.8"/><circle cx="937.8" cy="792.3" r="3.8"/></g><g fill="none" stroke="#fdc625" stroke-width="2.25"><circle cx="866.3" cy="644.8" r="3.8"/><circle cx="859.2" cy="670.5" r="3.8"/><circle cx="903.7" cy="681" r="3.8"/><circle cx="931.2" cy="691.5" r="3.8"/><circle cx="948.8" cy="649.6" r="3.8"/><circle cx="903.7" cy="727.4" r="3.8"/><circle cx="901.1" cy="728.2" r="3.8"/></g><ellipse cx="838.2" cy="828.3" rx="36.9" ry="21" transform="rotate(-25.5 838.2 828.3)" fill="none" stroke="#46185f" stroke-width="3.7"/><ellipse cx="917.9" cy="748.2" rx="38.1" ry="21.1" transform="rotate(-36.9 917.9 748.2)" fill="none" stroke="#2d6a93" stroke-width="3.7"/><ellipse cx="950.5" cy="698.4" rx="99.7" ry="27.1" transform="rotate(-64.1 950.5 698.4)" fill="none" stroke="#33b67a" stroke-width="3.7"/><ellipse cx="903.4" cy="690.5" rx="42.3" ry="33.1" transform="rotate(64.7 903.4 690.5)" fill="none" stroke="#fdc625" stroke-width="3.7"/><path d="M866.3 644.8 L948.8 649.6 L903.7 727.4 L859.2 670.5 Z" fill="none" stroke="#333333" stroke-width="2.1" stroke-dasharray="7.2 7.2"/><path d="M960.9 635.1 L1009.3 644.3 L937.8 792.3 L879.6 802.8 Z" fill="none" stroke="#333333" stroke-width="2.1" stroke-dasharray="7.2 7.2"/><path d="M880.7 757 L903.7 730.8 L954.3 725.5 L925.2 776.6 L895.9 774.5 Z" fill="none" stroke="#333333" stroke-width="2.1" stroke-dasharray="7.2 7.2"/><path d="M824.4 804.7 L891.4 813.3 L824.4 861.2 Z" fill="none" stroke="#333333" stroke-width="2.1" stroke-dasharray="7.2 7.2"/><rect x="795.8" y="567" width="242.4" height="362.1" fill="none" stroke="#111111" stroke-width="2.0"/><path d="M804.7 929.1v11.8M854.7 929.1v11.8M905 929.1v11.8M955.2 929.1v11.8M1005.4 929.1v11.8" stroke="#111111" stroke-width="2.0" fill="none"/><path d="M795.8 587.2h-11.8M795.8 641.7h-11.8M795.8 697.2h-11.8M795.8 752.5h-11.8M795.8 808.6h-11.8M795.8 863.9h-11.8M795.8 919.9h-11.8" stroke="#111111" stroke-width="2.0" fill="none"/><text x="0" y="0" font-size="30.4" text-anchor="middle" font-weight="normal" font-style="normal" fill="#231815" transform="translate(809.4 974.2) scale(0.921 1)">−25</text><text x="0" y="0" font-size="30.4" text-anchor="middle" font-weight="normal" font-style="normal" fill="#231815" transform="translate(859.7 974.2) scale(0.921 1)">−20</text><text x="0" y="0" font-size="30.4" text-anchor="middle" font-weight="normal" font-style="normal" fill="#231815" transform="translate(910 974.2) scale(0.921 1)">−15</text><text x="0" y="0" font-size="30.4" text-anchor="middle" font-weight="normal" font-style="normal" fill="#231815" transform="translate(960.2 974.2) scale(0.921 1)">−10</text><text x="0" y="0" font-size="30.4" text-anchor="middle" font-weight="normal" font-style="normal" fill="#231815" transform="translate(1007.2 974.2) scale(0.921 1)">−5</text><text x="0" y="0" font-size="30.4" text-anchor="middle" font-weight="normal" font-style="normal" fill="#231815" transform="translate(758 595.2) scale(0.921 1)">12</text><text x="0" y="0" font-size="30.4" text-anchor="middle" font-weight="normal" font-style="normal" fill="#231815" transform="translate(758 649.7) scale(0.921 1)">10</text><text x="0" y="0" font-size="30.4" text-anchor="middle" font-weight="normal" font-style="normal" fill="#231815" transform="translate(758 705.2) scale(0.921 1)">8</text><text x="0" y="0" font-size="30.4" text-anchor="middle" font-weight="normal" font-style="normal" fill="#231815" transform="translate(758 760.5) scale(0.921 1)">6</text><text x="0" y="0" font-size="30.4" text-anchor="middle" font-weight="normal" font-style="normal" fill="#231815" transform="translate(758 816.6) scale(0.921 1)">4</text><text x="0" y="0" font-size="30.4" text-anchor="middle" font-weight="normal" font-style="normal" fill="#231815" transform="translate(758 871.9) scale(0.921 1)">2</text><text x="0" y="0" font-size="30.4" text-anchor="middle" font-weight="normal" font-style="normal" fill="#231815" transform="translate(758 927.9) scale(0.921 1)">0</text><text x="0" y="0" font-size="28.6" text-anchor="start" font-weight="bold" font-style="normal" fill="#000" transform="translate(756.5 523.4) scale(1.03 1)">E</text><text x="837.2" y="550.2" font-size="30.4" text-anchor="start" font-weight="normal" font-style="normal" fill="#1a1a1a" textLength="147.5" lengthAdjust="spacingAndGlyphs">Gastropods</text><g fill="none" stroke="#2d6a93" stroke-width="2.25"><circle cx="1249.5" cy="738.8" r="3.8"/><circle cx="1254.4" cy="732.2" r="3.8"/><circle cx="1260.9" cy="732.9" r="3.8"/><circle cx="1248.8" cy="740.4" r="3.8"/><circle cx="1316.6" cy="788.5" r="3.8"/><circle cx="1331.3" cy="797.7" r="3.8"/><circle cx="1340.2" cy="808.2" r="3.8"/><circle cx="1338.9" cy="826.2" r="3.8"/><circle cx="1282.2" cy="833.7" r="3.8"/><circle cx="1281.2" cy="847.4" r="3.8"/><circle cx="1320.9" cy="860.9" r="3.8"/></g><g fill="none" stroke="#33b67a" stroke-width="2.25"><circle cx="1248.5" cy="670" r="3.8"/><circle cx="1224.9" cy="696.9" r="3.8"/><circle cx="1219.4" cy="708.7" r="3.8"/><circle cx="1233.1" cy="725" r="3.8"/><circle cx="1178.1" cy="745.3" r="3.8"/><circle cx="1217.7" cy="746" r="3.8"/><circle cx="1236.4" cy="740.4" r="3.8"/><circle cx="1240.3" cy="740.4" r="3.8"/><circle cx="1316.6" cy="740.4" r="3.8"/><circle cx="1260.9" cy="784.6" r="3.8"/><circle cx="1283.9" cy="792.8" r="3.8"/><circle cx="1283.9" cy="825.5" r="3.8"/></g><g fill="none" stroke="#fdc625" stroke-width="2.25"><circle cx="1217.7" cy="629.8" r="3.8"/><circle cx="1238" cy="639.9" r="3.8"/><circle cx="1233.1" cy="643.8" r="3.8"/><circle cx="1224.3" cy="656.3" r="3.8"/><circle cx="1219.1" cy="663.5" r="3.8"/><circle cx="1251.1" cy="768.2" r="3.8"/><circle cx="1247.9" cy="778.1" r="3.8"/><circle cx="1218.4" cy="784.6" r="3.8"/><circle cx="1305.1" cy="767.6" r="3.8"/><circle cx="1336.2" cy="780.3" r="3.8"/><circle cx="1283.9" cy="791.1" r="3.8"/></g><ellipse cx="1287.8" cy="786.8" rx="68.8" ry="27.9" transform="rotate(54.7 1287.8 786.8)" fill="none" stroke="#2d6a93" stroke-width="3.7"/><ellipse cx="1245.8" cy="743.6" rx="60" ry="37.2" transform="rotate(54.4 1245.8 743.6)" fill="none" stroke="#33b67a" stroke-width="3.7"/><ellipse cx="1252.4" cy="724" rx="85.6" ry="35.9" transform="rotate(69 1252.4 724)" fill="none" stroke="#fdc625" stroke-width="3.7"/><path d="M1217.7 629.8 L1238 639.9 L1336.2 780.3 L1218.4 784.6 Z" fill="none" stroke="#333333" stroke-width="2.1" stroke-dasharray="7.2 7.2"/><path d="M1178.1 745.3 L1248.5 670 L1316.6 740.4 L1283.9 825.5 Z" fill="none" stroke="#333333" stroke-width="2.1" stroke-dasharray="7.2 7.2"/><path d="M1254.4 732.2 L1260.9 732.9 L1340.2 808.2 L1338.9 826.2 L1320.9 860.9 L1281.2 847.4 L1248.8 740.4 Z" fill="none" stroke="#333333" stroke-width="2.1" stroke-dasharray="7.2 7.2"/><rect x="1137.2" y="564.6" width="243.1" height="361.7" fill="none" stroke="#111111" stroke-width="2.0"/><path d="M1148 926.3v11.8M1179.5 926.3v11.8M1211 926.3v11.8M1242.4 926.3v11.8M1273.9 926.3v11.8M1305.4 926.3v11.8M1336.9 926.3v11.8M1368.4 926.3v11.8" stroke="#111111" stroke-width="2.0" fill="none"/><path d="M1137.2 574.5h-11.8M1137.2 626.5h-11.8M1137.2 677.6h-11.8M1137.2 729.6h-11.8M1137.2 781.3h-11.8M1137.2 833.7h-11.8M1137.2 886.1h-11.8" stroke="#111111" stroke-width="2.0" fill="none"/><text x="0" y="0" font-size="30.4" text-anchor="middle" font-weight="normal" font-style="normal" fill="#231815" transform="translate(1153 974.5) scale(0.921 1)">−24</text><text x="0" y="0" font-size="30.4" text-anchor="middle" font-weight="normal" font-style="normal" fill="#231815" transform="translate(1216 974.5) scale(0.921 1)">−20</text><text x="0" y="0" font-size="30.4" text-anchor="middle" font-weight="normal" font-style="normal" fill="#231815" transform="translate(1278.9 974.5) scale(0.921 1)">−16</text><text x="0" y="0" font-size="30.4" text-anchor="middle" font-weight="normal" font-style="normal" fill="#231815" transform="translate(1341.9 974.5) scale(0.921 1)">−12</text><text x="0" y="0" font-size="30.4" text-anchor="middle" font-weight="normal" font-style="normal" fill="#231815" transform="translate(1100.7 581.2) scale(0.921 1)">14</text><text x="0" y="0" font-size="30.4" text-anchor="middle" font-weight="normal" font-style="normal" fill="#231815" transform="translate(1100.7 633.2) scale(0.921 1)">12</text><text x="0" y="0" font-size="30.4" text-anchor="middle" font-weight="normal" font-style="normal" fill="#231815" transform="translate(1100.7 684.3) scale(0.921 1)">10</text><text x="0" y="0" font-size="30.4" text-anchor="middle" font-weight="normal" font-style="normal" fill="#231815" transform="translate(1100.7 736.3) scale(0.921 1)">8</text><text x="0" y="0" font-size="30.4" text-anchor="middle" font-weight="normal" font-style="normal" fill="#231815" transform="translate(1100.7 788) scale(0.921 1)">6</text><text x="0" y="0" font-size="30.4" text-anchor="middle" font-weight="normal" font-style="normal" fill="#231815" transform="translate(1100.7 840.4) scale(0.921 1)">4</text><text x="0" y="0" font-size="30.4" text-anchor="middle" font-weight="normal" font-style="normal" fill="#231815" transform="translate(1100.7 892.8) scale(0.921 1)">2</text><text x="0" y="0" font-size="28.6" text-anchor="start" font-weight="bold" font-style="normal" fill="#000" transform="translate(1098.5 522.8) scale(1.03 1)">F</text><text x="1182.5" y="549.8" font-size="30.4" text-anchor="start" font-weight="normal" font-style="normal" fill="#1a1a1a" textLength="76" lengthAdjust="spacingAndGlyphs">Crabs</text><g fill="none" stroke="#33b67a" stroke-width="2.25"><circle cx="295.4" cy="1140.1" r="3.8"/><circle cx="263" cy="1154.2" r="3.8"/><circle cx="252.5" cy="1198.2" r="3.8"/><circle cx="295.4" cy="1208" r="3.8"/><circle cx="135.4" cy="1243.2" r="3.8"/><circle cx="181.8" cy="1257.2" r="3.8"/><circle cx="300.6" cy="1263.2" r="3.8"/><circle cx="199.7" cy="1340.6" r="3.8"/><circle cx="261.3" cy="1344.1" r="3.8"/></g><g fill="none" stroke="#fdc625" stroke-width="2.25"><circle cx="186.4" cy="1145.4" r="3.8"/><circle cx="275.3" cy="1162.3" r="3.8"/><circle cx="273.2" cy="1172.1" r="3.8"/><circle cx="259.5" cy="1186.9" r="3.8"/><circle cx="232.1" cy="1242.5" r="3.8"/></g><ellipse cx="242.6" cy="1238.4" rx="91.4" ry="60.5" transform="rotate(-60.4 242.6 1238.4)" fill="none" stroke="#33b67a" stroke-width="3.7"/><ellipse cx="244.7" cy="1181.7" rx="46.6" ry="42.2" transform="rotate(47.3 244.7 1181.7)" fill="none" stroke="#fdc625" stroke-width="3.7"/><path d="M186.4 1145.4 L275.3 1162.3 L232.1 1242.5 Z" fill="none" stroke="#333333" stroke-width="2.1" stroke-dasharray="7.2 7.2"/><path d="M135.4 1243.2 L263 1154.2 L295.4 1140.1 L300.6 1263.2 L261.3 1344.1 L199.7 1340.6 Z" fill="none" stroke="#333333" stroke-width="2.1" stroke-dasharray="7.2 7.2"/><rect x="96.7" y="1061.4" width="242.6" height="361.1" fill="none" stroke="#111111" stroke-width="2.0"/><path d="M129.9 1422.5v11.8M204.4 1422.5v11.8M279 1422.5v11.8" stroke="#111111" stroke-width="2.0" fill="none"/><path d="M96.7 1077.2h-11.8M96.7 1142.5h-11.8M96.7 1207.8h-11.8M96.7 1273.1h-11.8M96.7 1338.4h-11.8M96.7 1403.7h-11.8" stroke="#111111" stroke-width="2.0" fill="none"/><text x="0" y="0" font-size="30.4" text-anchor="middle" font-weight="normal" font-style="normal" fill="#231815" transform="translate(129.9 1468.2) scale(0.921 1)">−30</text><text x="0" y="0" font-size="30.4" text-anchor="middle" font-weight="normal" font-style="normal" fill="#231815" transform="translate(204.4 1468.2) scale(0.921 1)">−25</text><text x="0" y="0" font-size="30.4" text-anchor="middle" font-weight="normal" font-style="normal" fill="#231815" transform="translate(279 1468.2) scale(0.921 1)">−20</text><text x="0" y="0" font-size="30.4" text-anchor="middle" font-weight="normal" font-style="normal" fill="#231815" transform="translate(58.5 1085.2) scale(0.921 1)">14</text><text x="0" y="0" font-size="30.4" text-anchor="middle" font-weight="normal" font-style="normal" fill="#231815" transform="translate(58.5 1150.5) scale(0.921 1)">12</text><text x="0" y="0" font-size="30.4" text-anchor="middle" font-weight="normal" font-style="normal" fill="#231815" transform="translate(58.5 1215.8) scale(0.921 1)">10</text><text x="0" y="0" font-size="30.4" text-anchor="middle" font-weight="normal" font-style="normal" fill="#231815" transform="translate(58.5 1281.1) scale(0.921 1)">8</text><text x="0" y="0" font-size="30.4" text-anchor="middle" font-weight="normal" font-style="normal" fill="#231815" transform="translate(58.5 1346.4) scale(0.921 1)">6</text><text x="0" y="0" font-size="30.4" text-anchor="middle" font-weight="normal" font-style="normal" fill="#231815" transform="translate(58.5 1411.7) scale(0.921 1)">4</text><text x="0" y="0" font-size="28.6" text-anchor="start" font-weight="bold" font-style="normal" fill="#000" transform="translate(71 1009.6) scale(1.03 1)">G</text><text x="114.3" y="1041" font-size="30.4" text-anchor="start" font-weight="normal" font-style="italic" fill="#1a1a1a" textLength="230" lengthAdjust="spacingAndGlyphs">Carassius auratus</text><g transform="translate(22.3 1288.7) rotate(-90)" fill="#231815"><text x="-0.6" y="0.6" style="font-family:'Liberation Serif',serif" font-size="29.5">δ</text><text transform="translate(14.6 -9.6) scale(0.921 1)" font-size="16.5">15</text><text transform="translate(30.6 0) scale(0.975 1)" font-size="30.4" stroke="#231815" stroke-width="0.45">N</text><text transform="translate(61.2 0) scale(0.921 1)" font-size="30.4">(</text><text x="69.8" y="0" font-size="30.4" textLength="29.8" lengthAdjust="spacingAndGlyphs">‰</text><text transform="translate(100.2 0) scale(0.921 1)" font-size="30.4">)</text></g><g transform="translate(173 1513.7)" fill="#231815"><text x="-0.6" y="0.6" style="font-family:'Liberation Serif',serif" font-size="29.5">δ</text><text transform="translate(14.6 -8.4) scale(0.921 1)" font-size="16.5">13</text><text transform="translate(31.2 0) scale(0.95 1)" font-size="30.4">C</text><text transform="translate(61.2 0) scale(0.921 1)" font-size="30.4">(</text><text x="69.8" y="0" font-size="30.4" textLength="29.8" lengthAdjust="spacingAndGlyphs">‰</text><text transform="translate(100.2 0) scale(0.921 1)" font-size="30.4">)</text></g><g fill="none" stroke="#46185f" stroke-width="2.25"><circle cx="542.4" cy="1143" r="3.8"/><circle cx="563.9" cy="1151.7" r="3.8"/><circle cx="625.4" cy="1133.1" r="3.8"/><circle cx="554.8" cy="1222.8" r="3.8"/><circle cx="530.5" cy="1249.1" r="3.8"/><circle cx="478.8" cy="1244.6" r="3.8"/><circle cx="490.1" cy="1338.1" r="3.8"/><circle cx="487.2" cy="1341.6" r="3.8"/><circle cx="488.3" cy="1348.6" r="3.8"/></g><g fill="none" stroke="#33b67a" stroke-width="2.25"><circle cx="630.7" cy="1195.7" r="3.8"/><circle cx="582.9" cy="1210.8" r="3.8"/><circle cx="650.7" cy="1214" r="3.8"/><circle cx="582.9" cy="1199.9" r="3.8"/></g><g fill="none" stroke="#fdc625" stroke-width="2.25"><circle cx="482" cy="1137" r="3.8"/><circle cx="509.4" cy="1165.8" r="3.8"/><circle cx="480.2" cy="1174.6" r="3.8"/><circle cx="548.8" cy="1213.3" r="3.8"/></g><ellipse cx="529.1" cy="1241.4" rx="113.9" ry="27.1" transform="rotate(-63.1 529.1 1241.4)" fill="none" stroke="#46185f" stroke-width="3.7"/><ellipse cx="606.3" cy="1203.5" rx="38.5" ry="9.1" transform="rotate(2 606.3 1203.5)" fill="none" stroke="#33b67a" stroke-width="3.7"/><ellipse cx="513.1" cy="1180.4" rx="52.6" ry="14" transform="rotate(45 513.1 1180.4)" fill="none" stroke="#fdc625" stroke-width="3.7"/><path d="M482 1137 L548.8 1213.3 L480.2 1174.6 Z" fill="none" stroke="#333333" stroke-width="2.1" stroke-dasharray="7.2 7.2"/><path d="M478.8 1244.6 L542.4 1143 L625.4 1133.1 L488.3 1348.6 Z" fill="none" stroke="#333333" stroke-width="2.1" stroke-dasharray="7.2 7.2"/><path d="M582.9 1201 L630.7 1195.7 L650.7 1214 L582.9 1210.8 Z" fill="none" stroke="#333333" stroke-width="2.1" stroke-dasharray="7.2 7.2"/><rect x="444.3" y="1060.3" width="240.9" height="361.1" fill="none" stroke="#111111" stroke-width="2.0"/><path d="M466.2 1421.4v11.8M529.5 1421.4v11.8M592.8 1421.4v11.8M656.1 1421.4v11.8" stroke="#111111" stroke-width="2.0" fill="none"/><path d="M444.3 1079.7h-11.8M444.3 1139.4h-11.8M444.3 1199.2h-11.8M444.3 1258.3h-11.8M444.3 1317.7h-11.8M444.3 1377.8h-11.8" stroke="#111111" stroke-width="2.0" fill="none"/><text x="0" y="0" font-size="30.4" text-anchor="middle" font-weight="normal" font-style="normal" fill="#231815" transform="translate(464.1 1466.9) scale(0.921 1)">−30</text><text x="0" y="0" font-size="30.4" text-anchor="middle" font-weight="normal" font-style="normal" fill="#231815" transform="translate(527.4 1466.9) scale(0.921 1)">−25</text><text x="0" y="0" font-size="30.4" text-anchor="middle" font-weight="normal" font-style="normal" fill="#231815" transform="translate(590.7 1466.9) scale(0.921 1)">−20</text><text x="0" y="0" font-size="30.4" text-anchor="middle" font-weight="normal" font-style="normal" fill="#231815" transform="translate(654 1466.9) scale(0.921 1)">−15</text><text x="0" y="0" font-size="30.4" text-anchor="middle" font-weight="normal" font-style="normal" fill="#231815" transform="translate(409.3 1088.4) scale(0.921 1)">14</text><text x="0" y="0" font-size="30.4" text-anchor="middle" font-weight="normal" font-style="normal" fill="#231815" transform="translate(409.3 1148.1) scale(0.921 1)">12</text><text x="0" y="0" font-size="30.4" text-anchor="middle" font-weight="normal" font-style="normal" fill="#231815" transform="translate(409.3 1207.9) scale(0.921 1)">10</text><text x="0" y="0" font-size="30.4" text-anchor="middle" font-weight="normal" font-style="normal" fill="#231815" transform="translate(409.3 1267) scale(0.921 1)">8</text><text x="0" y="0" font-size="30.4" text-anchor="middle" font-weight="normal" font-style="normal" fill="#231815" transform="translate(409.3 1326.4) scale(0.921 1)">6</text><text x="0" y="0" font-size="30.4" text-anchor="middle" font-weight="normal" font-style="normal" fill="#231815" transform="translate(409.3 1386.5) scale(0.921 1)">4</text><text x="0" y="0" font-size="28.6" text-anchor="start" font-weight="bold" font-style="normal" fill="#000" transform="translate(403.5 1009.6) scale(1.03 1)">H</text><text x="433.4" y="1041" font-size="30.4" text-anchor="start" font-weight="normal" font-style="italic" fill="#1a1a1a" textLength="299.5" lengthAdjust="spacingAndGlyphs">Planiliza haematocheila</text><g transform="translate(507.9 1512.5)" fill="#231815"><text x="-0.6" y="0.6" style="font-family:'Liberation Serif',serif" font-size="29.5">δ</text><text transform="translate(14.6 -8.4) scale(0.921 1)" font-size="16.5">13</text><text transform="translate(31.2 0) scale(0.95 1)" font-size="30.4">C</text><text transform="translate(61.2 0) scale(0.921 1)" font-size="30.4">(</text><text x="69.8" y="0" font-size="30.4" textLength="29.8" lengthAdjust="spacingAndGlyphs">‰</text><text transform="translate(100.2 0) scale(0.921 1)" font-size="30.4">)</text></g><g fill="none" stroke="#46185f" stroke-width="2.25"><circle cx="829.9" cy="1340.6" r="3.8"/><circle cx="867.5" cy="1338.5" r="3.8"/><circle cx="926.5" cy="1221.5" r="3.8"/><circle cx="942.7" cy="1211.9" r="3.8"/><circle cx="953.8" cy="1209" r="3.8"/><circle cx="969.7" cy="1214.6" r="3.8"/><circle cx="976.1" cy="1182.8" r="3.8"/></g><g fill="none" stroke="#2d6a93" stroke-width="2.25"><circle cx="886.9" cy="1172.8" r="3.8"/><circle cx="935.6" cy="1154.9" r="3.8"/><circle cx="981.2" cy="1163.2" r="3.8"/><circle cx="980.5" cy="1192.1" r="3.8"/><circle cx="929.9" cy="1193.3" r="3.8"/></g><g fill="none" stroke="#33b67a" stroke-width="2.25"><circle cx="925.4" cy="1136.9" r="3.8"/><circle cx="942.1" cy="1142.1" r="3.8"/><circle cx="970.9" cy="1143.3" r="3.8"/><circle cx="1003.6" cy="1215.1" r="3.8"/><circle cx="929.2" cy="1192.1" r="3.8"/><circle cx="975.4" cy="1156.2" r="3.8"/><circle cx="980.5" cy="1199.7" r="3.8"/><circle cx="977.9" cy="1202.3" r="3.8"/></g><g fill="none" stroke="#fdc625" stroke-width="2.25"><circle cx="929.9" cy="1157.4" r="3.8"/><circle cx="922.8" cy="1166.4" r="3.8"/><circle cx="924.1" cy="1174.1" r="3.8"/><circle cx="966.4" cy="1163.8" r="3.8"/><circle cx="962.6" cy="1179.9" r="3.8"/><circle cx="966.4" cy="1186.9" r="3.8"/><circle cx="957.4" cy="1188.2" r="3.8"/><circle cx="965.1" cy="1203.6" r="3.8"/></g><ellipse cx="915.1" cy="1255.7" rx="100.5" ry="14.8" transform="rotate(-50.4 915.1 1255.7)" fill="none" stroke="#46185f" stroke-width="3.7"/><ellipse cx="953" cy="1181.5" rx="36.1" ry="16.5" transform="rotate(14.2 953 1181.5)" fill="none" stroke="#2d6a93" stroke-width="3.7"/><ellipse cx="966.1" cy="1175.5" rx="35.5" ry="19.9" transform="rotate(58 966.1 1175.5)" fill="none" stroke="#33b67a" stroke-width="3.7"/><ellipse cx="954.2" cy="1179.2" rx="23.6" ry="15.5" transform="rotate(30.5 954.2 1179.2)" fill="none" stroke="#fdc625" stroke-width="3.7"/><path d="M829.9 1340.6 L926.5 1221.5 L976.1 1182.8 L969.7 1214.6 L867.5 1338.5 Z" fill="none" stroke="#333333" stroke-width="2.1" stroke-dasharray="7.2 7.2"/><path d="M925.4 1136.9 L970.9 1143.3 L1003.6 1215.1 L929.2 1192.1 Z" fill="none" stroke="#333333" stroke-width="2.1" stroke-dasharray="7.2 7.2"/><path d="M886.9 1172.8 L935.6 1154.9 L981.2 1163.2 L980.5 1192.1 L929.9 1193.3 Z" fill="none" stroke="#333333" stroke-width="2.1" stroke-dasharray="7.2 7.2"/><path d="M929.9 1157.4 L966.4 1163.8 L975.4 1166.4 L965.1 1203.6 L924.1 1174.1 L922.8 1166.4 Z" fill="none" stroke="#333333" stroke-width="2.1" stroke-dasharray="7.2 7.2"/><rect x="795.8" y="1056.8" width="242.9" height="362.2" fill="none" stroke="#111111" stroke-width="2.0"/><path d="M858.4 1419v11.8M921.7 1419v11.8M984.9 1419v11.8" stroke="#111111" stroke-width="2.0" fill="none"/><path d="M795.8 1074.1h-11.8M795.8 1139.7h-11.8M795.8 1205.2h-11.8M795.8 1270.8h-11.8M795.8 1336.4h-11.8M795.8 1401.9h-11.8" stroke="#111111" stroke-width="2.0" fill="none"/><text x="0" y="0" font-size="30.4" text-anchor="middle" font-weight="normal" font-style="normal" fill="#231815" transform="translate(855.7 1464.6) scale(0.921 1)">−25</text><text x="0" y="0" font-size="30.4" text-anchor="middle" font-weight="normal" font-style="normal" fill="#231815" transform="translate(919 1464.6) scale(0.921 1)">−20</text><text x="0" y="0" font-size="30.4" text-anchor="middle" font-weight="normal" font-style="normal" fill="#231815" transform="translate(982.2 1464.6) scale(0.921 1)">−15</text><text x="0" y="0" font-size="30.4" text-anchor="middle" font-weight="normal" font-style="normal" fill="#231815" transform="translate(758.3 1085.1) scale(0.921 1)">14</text><text x="0" y="0" font-size="30.4" text-anchor="middle" font-weight="normal" font-style="normal" fill="#231815" transform="translate(758.3 1150.7) scale(0.921 1)">12</text><text x="0" y="0" font-size="30.4" text-anchor="middle" font-weight="normal" font-style="normal" fill="#231815" transform="translate(758.3 1216.2) scale(0.921 1)">10</text><text x="0" y="0" font-size="30.4" text-anchor="middle" font-weight="normal" font-style="normal" fill="#231815" transform="translate(758.3 1281.8) scale(0.921 1)">8</text><text x="0" y="0" font-size="30.4" text-anchor="middle" font-weight="normal" font-style="normal" fill="#231815" transform="translate(758.3 1347.4) scale(0.921 1)">6</text><text x="0" y="0" font-size="30.4" text-anchor="middle" font-weight="normal" font-style="normal" fill="#231815" transform="translate(758.3 1412.9) scale(0.921 1)">4</text><text x="0" y="0" font-size="28.6" text-anchor="start" font-weight="bold" font-style="normal" fill="#000" transform="translate(756.5 1008.3) scale(1.03 1)">I</text><text x="784.5" y="1040.5" font-size="30.4" text-anchor="start" font-weight="normal" font-style="italic" fill="#1a1a1a" textLength="272.5" lengthAdjust="spacingAndGlyphs">Synechogobius hasta</text><g transform="translate(868.2 1517.7)" fill="#231815"><text x="-0.6" y="0.6" style="font-family:'Liberation Serif',serif" font-size="29.5">δ</text><text transform="translate(14.6 -8.4) scale(0.921 1)" font-size="16.5">13</text><text transform="translate(31.2 0) scale(0.95 1)" font-size="30.4">C</text><text transform="translate(61.2 0) scale(0.921 1)" font-size="30.4">(</text><text x="69.8" y="0" font-size="30.4" textLength="29.8" lengthAdjust="spacingAndGlyphs">‰</text><text transform="translate(100.2 0) scale(0.921 1)" font-size="30.4">)</text></g><g fill="none" stroke="#2d6a93" stroke-width="2.25"><circle cx="1236.9" cy="1210.9" r="3.8"/><circle cx="1316.6" cy="1242.2" r="3.8"/><circle cx="1314.8" cy="1254.3" r="3.8"/><circle cx="1304.3" cy="1256.6" r="3.8"/><circle cx="1311.8" cy="1264.1" r="3.8"/><circle cx="1232" cy="1259.6" r="3.8"/><circle cx="1237.3" cy="1281.4" r="3.8"/><circle cx="1218.4" cy="1288.2" r="3.8"/><circle cx="1212.4" cy="1301" r="3.8"/><circle cx="1248.2" cy="1299" r="3.8"/><circle cx="1267.4" cy="1288.2" r="3.8"/><circle cx="1279.4" cy="1290.5" r="3.8"/></g><g fill="none" stroke="#33b67a" stroke-width="2.25"><circle cx="1236.8" cy="1185.3" r="3.8"/><circle cx="1263.6" cy="1249.8" r="3.8"/><circle cx="1271.9" cy="1271.6" r="3.8"/><circle cx="1272.7" cy="1278.4" r="3.8"/><circle cx="1281.7" cy="1277.6" r="3.8"/><circle cx="1291.5" cy="1258.8" r="3.8"/><circle cx="1299" cy="1267.1" r="3.8"/><circle cx="1292.2" cy="1278.4" r="3.8"/><circle cx="1283.2" cy="1300.2" r="3.8"/><circle cx="1298.3" cy="1299.5" r="3.8"/><circle cx="1297.5" cy="1310" r="3.8"/><circle cx="1298.3" cy="1322.5" r="3.8"/><circle cx="1265.4" cy="1320.6" r="3.8"/></g><g fill="none" stroke="#fdc625" stroke-width="2.25"><circle cx="1237.7" cy="1145.8" r="3.8"/><circle cx="1200.6" cy="1305.5" r="3.8"/><circle cx="1214.4" cy="1321.6" r="3.8"/><circle cx="1208.3" cy="1336.4" r="3.8"/><circle cx="1232.7" cy="1326.6" r="3.8"/><circle cx="1247.3" cy="1314.1" r="3.8"/><circle cx="1239.1" cy="1276.1" r="3.8"/><circle cx="1266.6" cy="1260.3" r="3.8"/><circle cx="1262.1" cy="1266.3" r="3.8"/><circle cx="1266.6" cy="1285.2" r="3.8"/><circle cx="1259.8" cy="1292.7" r="3.8"/><circle cx="1272.7" cy="1310.8" r="3.8"/><circle cx="1274.9" cy="1322.1" r="3.8"/><circle cx="1289.2" cy="1269.4" r="3.8"/><circle cx="1296" cy="1294.2" r="3.8"/></g><ellipse cx="1268.8" cy="1271.7" rx="46" ry="27.7" transform="rotate(-18.8 1268.8 1271.7)" fill="none" stroke="#2d6a93" stroke-width="3.7"/><ellipse cx="1282.3" cy="1279.2" rx="43.5" ry="12.7" transform="rotate(64.6 1282.3 1279.2)" fill="none" stroke="#33b67a" stroke-width="3.7"/><ellipse cx="1251.6" cy="1288.1" rx="55.5" ry="33.3" transform="rotate(-81.5 1251.6 1288.1)" fill="none" stroke="#fdc625" stroke-width="3.7"/><path d="M1237.7 1145.8 L1200.6 1305.5 L1208.3 1336.4 L1274.9 1322.1 L1299 1292.7 Z" fill="none" stroke="#333333" stroke-width="2.1" stroke-dasharray="7.2 7.2"/><path d="M1236.8 1185.3 L1299 1288.2 L1298.3 1322.5 L1265.4 1320.6 Z" fill="none" stroke="#333333" stroke-width="2.1" stroke-dasharray="7.2 7.2"/><path d="M1236.9 1210.9 L1316.6 1242.2 L1314.8 1254.3 L1311.8 1264.1 L1296 1286.7 L1259.8 1293.5 L1212.4 1301 Z" fill="none" stroke="#333333" stroke-width="2.1" stroke-dasharray="7.2 7.2"/><rect x="1137.2" y="1060.3" width="243.6" height="361.1" fill="none" stroke="#111111" stroke-width="2.0"/><path d="M1163.8 1421.4v11.8M1218.5 1421.4v11.8M1273.2 1421.4v11.8M1327.9 1421.4v11.8" stroke="#111111" stroke-width="2.0" fill="none"/><path d="M1137.2 1123.9h-11.8M1137.2 1196.1h-11.8M1137.2 1268.3h-11.8M1137.2 1340.5h-11.8M1137.2 1412.7h-11.8" stroke="#111111" stroke-width="2.0" fill="none"/><text x="0" y="0" font-size="30.4" text-anchor="middle" font-weight="normal" font-style="normal" fill="#231815" transform="translate(1164.2 1467.6) scale(0.921 1)">−22</text><text x="0" y="0" font-size="30.4" text-anchor="middle" font-weight="normal" font-style="normal" fill="#231815" transform="translate(1218.9 1467.6) scale(0.921 1)">−20</text><text x="0" y="0" font-size="30.4" text-anchor="middle" font-weight="normal" font-style="normal" fill="#231815" transform="translate(1273.6 1467.6) scale(0.921 1)">−18</text><text x="0" y="0" font-size="30.4" text-anchor="middle" font-weight="normal" font-style="normal" fill="#231815" transform="translate(1328.3 1467.6) scale(0.921 1)">−16</text><text x="0" y="0" font-size="30.4" text-anchor="middle" font-weight="normal" font-style="normal" fill="#231815" transform="translate(1103 1131.5) scale(0.921 1)">16</text><text x="0" y="0" font-size="30.4" text-anchor="middle" font-weight="normal" font-style="normal" fill="#231815" transform="translate(1103 1203.7) scale(0.921 1)">14</text><text x="0" y="0" font-size="30.4" text-anchor="middle" font-weight="normal" font-style="normal" fill="#231815" transform="translate(1103 1275.9) scale(0.921 1)">12</text><text x="0" y="0" font-size="30.4" text-anchor="middle" font-weight="normal" font-style="normal" fill="#231815" transform="translate(1103 1348.1) scale(0.921 1)">10</text><text x="0" y="0" font-size="30.4" text-anchor="middle" font-weight="normal" font-style="normal" fill="#231815" transform="translate(1098.3 1420.3) scale(0.921 1)">8</text><text x="0" y="0" font-size="28.6" text-anchor="start" font-weight="bold" font-style="normal" fill="#000" transform="translate(1098 1008.3) scale(1.03 1)">J</text><text x="1120.7" y="1041" font-size="30.4" text-anchor="start" font-weight="normal" font-style="italic" fill="#1a1a1a" textLength="278" lengthAdjust="spacingAndGlyphs">Lateolabrax japonicus</text><g transform="translate(1208.9 1520)" fill="#231815"><text x="-0.6" y="0.6" style="font-family:'Liberation Serif',serif" font-size="29.5">δ</text><text transform="translate(14.6 -8.4) scale(0.921 1)" font-size="16.5">13</text><text transform="translate(31.2 0) scale(0.95 1)" font-size="30.4">C</text><text transform="translate(61.2 0) scale(0.921 1)" font-size="30.4">(</text><text x="69.8" y="0" font-size="30.4" textLength="29.8" lengthAdjust="spacingAndGlyphs">‰</text><text transform="translate(100.2 0) scale(0.921 1)" font-size="30.4">)</text></g></svg></body></html>
